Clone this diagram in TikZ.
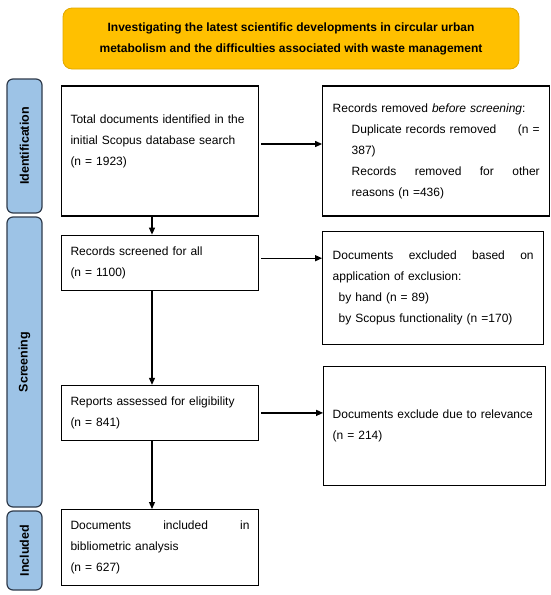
\documentclass[tikz,border=0pt]{standalone}
\usepackage{fontspec}
\setmainfont{Liberation Sans}
\usetikzlibrary{positioning,arrows.meta}

\definecolor{titleorange}{HTML}{FFC000}
\definecolor{titleedge}{HTML}{E0A800}
\definecolor{phaseblue}{HTML}{9DC3E6}
\definecolor{phaseedge}{HTML}{2F3B4C}

\begin{document}
\begin{tikzpicture}[x=1pt,y=-1pt,line width=1.2pt,>={Triangle[length=7pt,width=6pt]},
                    record box/.style={rectangle,draw,align=left,text width=179pt,inner xsep=9pt,
                                       inner ysep=0pt,font=\fontsize{12}{21}\selectfont},
                    side box/.style={record box,text width=201pt,inner xsep=10pt},
                    phase bar/.style={rectangle,rounded corners=6pt,draw=phaseedge,fill=phaseblue,rotate=90,
                                      minimum height=35pt,inner sep=0pt,font=\fontsize{12.5}{14}\selectfont\bfseries},
                    title box/.style={rectangle,rounded corners=9pt,draw=titleedge,fill=titleorange,align=center,
                                      minimum width=456pt,minimum height=61pt,line width=0.8pt,
                                      font=\fontsize{12}{21}\selectfont\bfseries}]

       \useasboundingbox (0,0) rectangle (550,595);

       % title and phases
       \node[title box] (title) at (291,38.5) {Investigating the latest scientific developments in circular urban\\
                                               metabolism and the difficulties associated with waste management};
       \node[phase bar,minimum width=134pt] (identification) at (24.5,146) {Identification};
       \node[phase bar,minimum width=290pt] (screening) at (24.5,362) {Screening};
       \node[phase bar,minimum width=79pt] (includedbar) at (24.5,550.5) {Included};

       % left column
       \node[record box,minimum height=130pt] (total) at (160,151) {Total documents identified in the\\
                                                                   initial Scopus database search\\
                                                                   (n = 1923)\\ \mbox{}};
       \node[record box,minimum height=55pt] (screened) [below=18pt of total] {Records screened for all\\(n = 1100)};
       \node[record box,minimum height=55pt] (assessed) [below=94pt of screened] {Reports assessed for eligibility\\(n = 841)};
       \node[record box,minimum height=76pt] (included) [below=68pt of assessed] {Documents\hfill included\hfill in\\
                                                                                   bibliometric analysis\\
                                                                                   (n = 627)};

       % right column
       \node[side box,text width=207pt,minimum height=130pt] (removed) [right=63pt of total]
            {Records removed \textit{before screening}:\\
             \hspace*{19pt}Duplicate records removed\hfill(n =\hspace*{6pt}\\
             \hspace*{19pt}387)\\
             \hspace*{19pt}Records\hfill removed\hfill for\hfill other\hspace*{6pt}\\
             \hspace*{19pt}reasons (n =436)};
       \node[side box,minimum height=113pt] (excluded) [right=63pt of screened,yshift=-25pt]
            {Documents\hfill excluded\hfill based\hfill on\\
             application of exclusion:\\
             \hspace*{6pt}by hand (n = 89)\\
             \hspace*{6pt}by Scopus functionality (n =170)};
       \node[side box,text width=204pt,inner xsep=9pt,minimum height=119pt] (relevance) [right=64pt of assessed,yshift=-13pt]
            {Documents exclude due to relevance\\(n = 214)};

       \coordinate (spine) at (152,0);
       \coordinate (idout) at ([yshift=7pt]total.east);
       \coordinate (scout) at ([yshift=4.5pt]screened.east);

       \path[->,shorten <=2pt]
         (idout) edge (idout -| removed.west)
         (scout) edge (scout -| excluded.west)
         (assessed.east) edge (assessed.east -| relevance.west);
       \path[->]
         (total.south -| spine) edge (screened.north -| spine)
         (screened.south -| spine) edge (assessed.north -| spine)
         (assessed.south -| spine) edge (included.north -| spine);
\end{tikzpicture}
\end{document}
